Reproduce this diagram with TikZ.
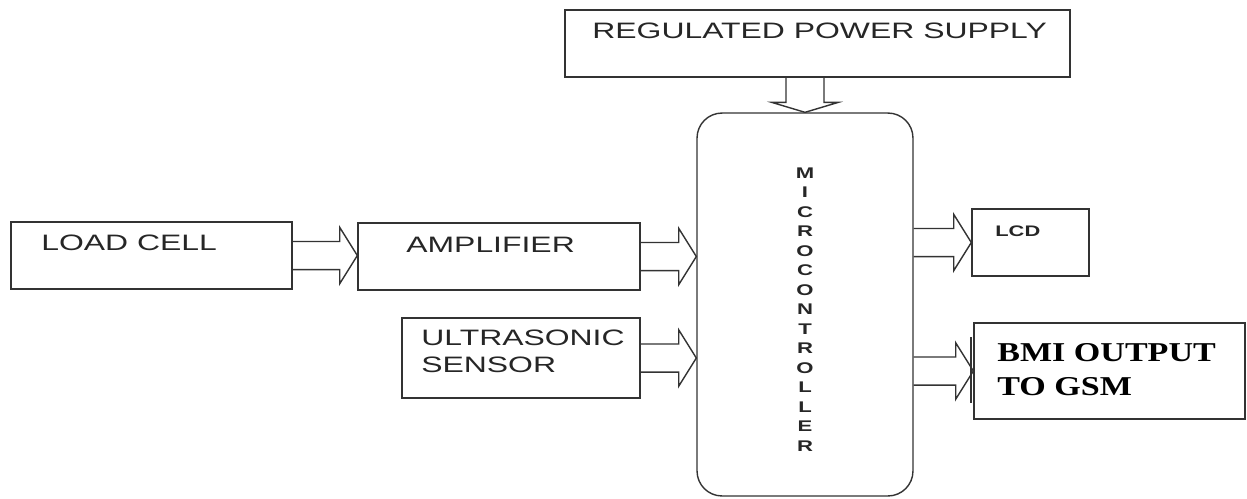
\documentclass[tikz,border=0pt]{standalone}
\usepackage{fontspec}
\usepackage{tikz}
\usetikzlibrary{calc, positioning}
\newfontfamily\widesans{Liberation Sans}[FakeStretch=1.43]
\newfontfamily\wideserif{Liberation Serif}[FakeStretch=1.25]
\definecolor{boxgray}{HTML}{333333}

% hollow block arrows (shaft, head)
\newcommand{\hollowright}[2]{%
  \draw[hollow] let \p1=(#1), \p2=(#2) in
    (\x1,\y1+8pt) -- (\x2-10pt,\y1+8pt) -- (\x2-10pt,\y1+16pt) -- (\x2,\y1)
    -- (\x2-10pt,\y1-16pt) -- (\x2-10pt,\y1-8pt) -- (\x1,\y1-8pt);}
\newcommand{\hollowdown}[2]{%
  \draw[hollow] let \p1=(#1), \p2=(#2) in
    (\x1-10.8pt,\y1) -- (\x1-10.8pt,\y2+5.7pt) -- (\x1-19pt,\y2+5.7pt) -- (\x1,\y2)
    -- (\x1+19pt,\y2+5.7pt) -- (\x1+10.8pt,\y2+5.7pt) -- (\x1+10.8pt,\y1);}

\begin{document}
\begin{tikzpicture}[
  x=0.02cm, y=-0.02cm,
  blockbox/.style={draw=boxgray, line width=0.8pt, inner sep=0pt},
  hollow/.style={draw=boxgray, line width=0.8pt, line join=miter},
  lbl/.style={anchor=west, inner sep=0pt, align=left, text=black!85,
    font=\widesans\fontsize{12.7}{15.3}\selectfont},
]
  \useasboundingbox (0,0) rectangle (1247,498);

  % blocks
  \node[blockbox, minimum width=10.1cm, minimum height=1.34cm] (psu) at (817.5,43.5) {};
  \node[blockbox, rounded corners=0.5cm, minimum width=4.32cm, minimum height=7.66cm] (mcu) at (805,304.5) {};
  \node[blockbox, minimum width=5.62cm, minimum height=1.34cm] (lc) at (151.5,255.5) {};
  \node[blockbox, minimum width=5.64cm, minimum height=1.34cm] (amp) at (499,256.5) {};
  \node[blockbox, minimum width=4.76cm, minimum height=1.6cm] (us) at (521,358) {};
  \node[blockbox, minimum width=2.34cm, minimum height=1.34cm] (lcd) at (1030.5,242.5) {};
  \node[blockbox, minimum width=5.42cm, minimum height=1.92cm] (bmi) at (1109.5,371) {};
  \draw[line width=1.2pt, boxgray] ($(bmi.west)+(-2,-34)$) -- ($(bmi.west)+(-2,32)$);

  % labels
  \node[lbl] (psutext) at (592,31) {REGULATED POWER SUPPLY};
  \node[lbl] (lctext) at (41,243) {LOAD CELL};
  \node[lbl] (amptext) at (406,245) {AMPLIFIER};
  \node[lbl] (ustext) at (421,351.5) {ULTRASONIC\\SENSOR};
  \node[lbl, font=\widesans\bfseries\fontsize{8.7}{10}\selectfont] (lcdtext) at (995,231) {LCD};
  \node[lbl, text=black, font=\wideserif\bfseries\fontsize{15.5}{19.8}\selectfont] (bmitext) at (997,369.5) {BMI OUTPUT\\TO GSM};
  \node[inner sep=0pt, align=center, text=black!85, font=\widesans\bfseries\fontsize{8.8}{11.1}\selectfont] (mcutext) at (805,309.5)
    {M\\I\\C\\R\\O\\C\\O\\N\\T\\R\\O\\L\\L\\E\\R};

  % arrows
  \hollowdown{mcu.north |- psu.south}{mcu.north}
  \hollowright{lc.east}{amp.west}
  \hollowright{amp.east}{amp.east -| mcu.west}
  \hollowright{us.east}{us.east -| mcu.west}
  \hollowright{lcd.west -| mcu.east}{lcd.west}
  \hollowright{bmi.west -| mcu.east}{bmi.west}
\end{tikzpicture}
\end{document}
